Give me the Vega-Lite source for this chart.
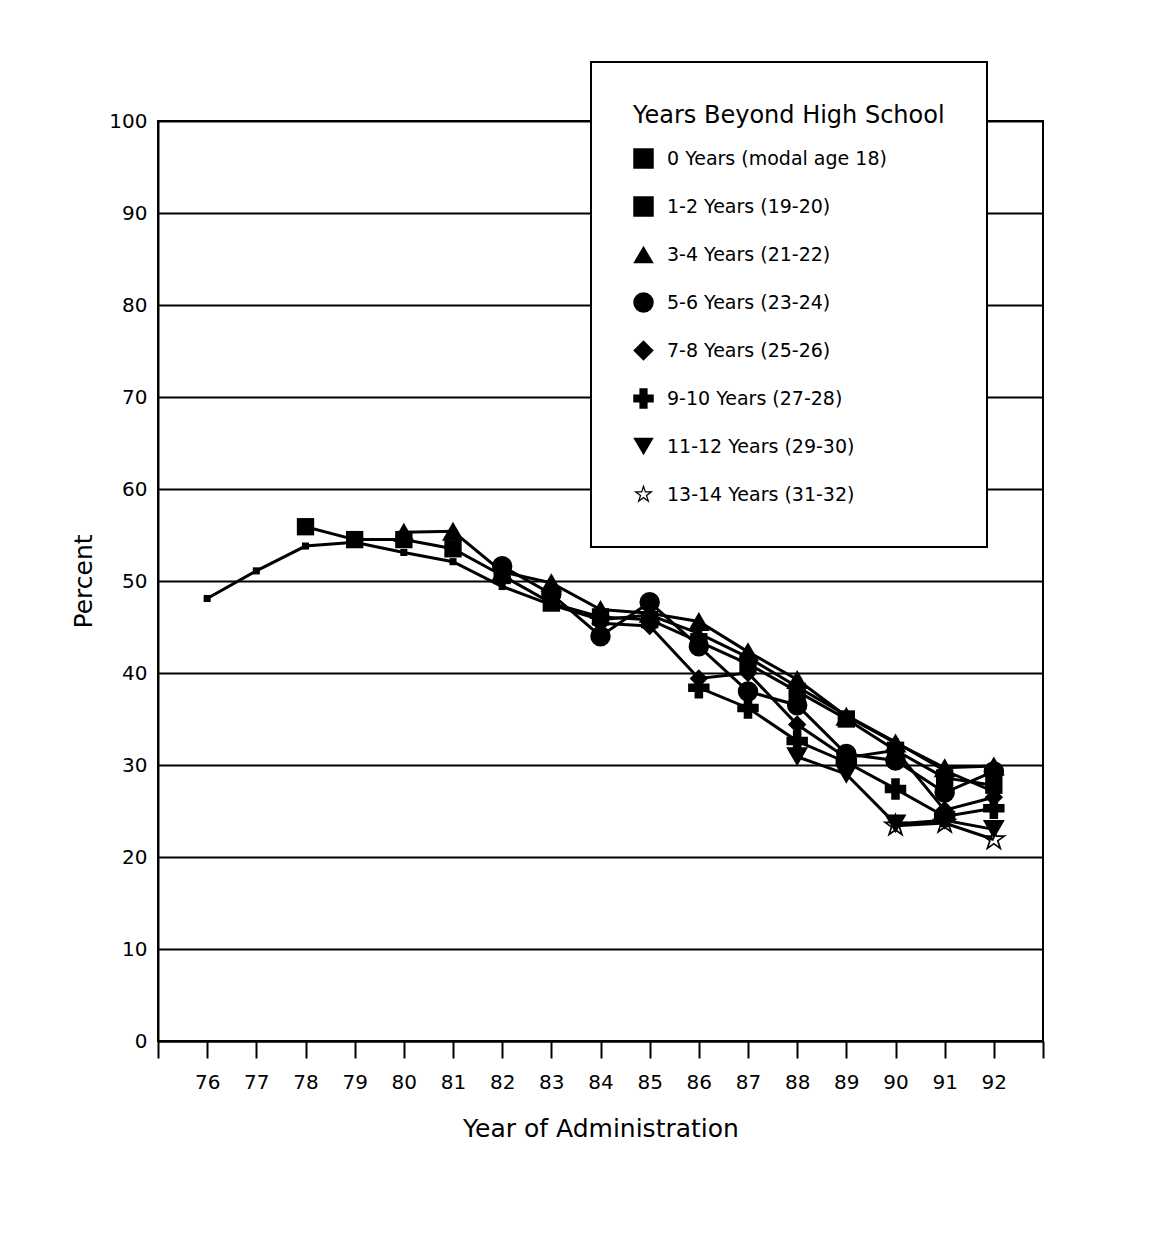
{
  "$schema": "https://vega.github.io/schema/vega-lite/v6.json",
  "autosize": {"type": "none"},
  "padding": {"left": 158, "top": 121, "right": 121, "bottom": 202},
  "width": 885,
  "height": 920,
  "background": "white",
  "config": {
    "font": "DejaVu Sans",
    "view": {"stroke": "black", "strokeWidth": 2},
    "axis": {"domainColor": "black", "domainWidth": 2, "labelColor": "black", "titleColor": "black", "labelFont": "DejaVu Sans", "titleFont": "DejaVu Sans", "titleFontWeight": "normal"},
    "legend": {
      "orient": "none", "legendX": 433, "legendY": -59,
      "padding": 42,
      "strokeColor": "black", "strokeWidth": 2, "fillColor": "white",
      "titleFont": "DejaVu Sans", "titleFontSize": 24, "titleFontWeight": "normal", "titleColor": "black", "titlePadding": 20, "titleLimit": 600,
      "labelFont": "DejaVu Sans", "labelFontSize": 19, "labelColor": "black", "labelOffset": 13, "labelLimit": 400,
      "symbolSize": 420, "symbolFillColor": "black", "symbolStrokeColor": "black", "symbolStrokeWidth": 0, "symbolOpacity": 1,
      "rowPadding": 27
    }
  },
  "data": {
    "values": [
      {"series": "0 Years (modal age 18)", "year": 76, "pct": 48.1},
      {"series": "0 Years (modal age 18)", "year": 77, "pct": 51.1},
      {"series": "0 Years (modal age 18)", "year": 78, "pct": 53.8},
      {"series": "0 Years (modal age 18)", "year": 79, "pct": 54.2},
      {"series": "0 Years (modal age 18)", "year": 80, "pct": 53.1},
      {"series": "0 Years (modal age 18)", "year": 81, "pct": 52.1},
      {"series": "0 Years (modal age 18)", "year": 82, "pct": 49.4},
      {"series": "0 Years (modal age 18)", "year": 83, "pct": 47.4},
      {"series": "0 Years (modal age 18)", "year": 84, "pct": 45.8},
      {"series": "0 Years (modal age 18)", "year": 85, "pct": 46.3},
      {"series": "0 Years (modal age 18)", "year": 86, "pct": 44.3},
      {"series": "0 Years (modal age 18)", "year": 87, "pct": 41.7},
      {"series": "0 Years (modal age 18)", "year": 88, "pct": 38.5},
      {"series": "0 Years (modal age 18)", "year": 89, "pct": 35.4},
      {"series": "0 Years (modal age 18)", "year": 90, "pct": 32.5},
      {"series": "0 Years (modal age 18)", "year": 91, "pct": 29.4},
      {"series": "0 Years (modal age 18)", "year": 92, "pct": 27.1},
      {"series": "1-2 Years (19-20)", "year": 78, "pct": 55.9},
      {"series": "1-2 Years (19-20)", "year": 79, "pct": 54.5},
      {"series": "1-2 Years (19-20)", "year": 80, "pct": 54.5},
      {"series": "1-2 Years (19-20)", "year": 81, "pct": 53.5},
      {"series": "1-2 Years (19-20)", "year": 82, "pct": 50.6},
      {"series": "1-2 Years (19-20)", "year": 83, "pct": 47.6},
      {"series": "1-2 Years (19-20)", "year": 84, "pct": 46.1},
      {"series": "1-2 Years (19-20)", "year": 85, "pct": 45.8},
      {"series": "1-2 Years (19-20)", "year": 86, "pct": 43.4},
      {"series": "1-2 Years (19-20)", "year": 87, "pct": 41.0},
      {"series": "1-2 Years (19-20)", "year": 88, "pct": 38.0},
      {"series": "1-2 Years (19-20)", "year": 89, "pct": 35.0},
      {"series": "1-2 Years (19-20)", "year": 90, "pct": 31.6},
      {"series": "1-2 Years (19-20)", "year": 91, "pct": 28.6},
      {"series": "1-2 Years (19-20)", "year": 92, "pct": 27.8},
      {"series": "3-4 Years (21-22)", "year": 80, "pct": 55.3},
      {"series": "3-4 Years (21-22)", "year": 81, "pct": 55.4},
      {"series": "3-4 Years (21-22)", "year": 82, "pct": 51.0},
      {"series": "3-4 Years (21-22)", "year": 83, "pct": 49.8},
      {"series": "3-4 Years (21-22)", "year": 84, "pct": 46.9},
      {"series": "3-4 Years (21-22)", "year": 85, "pct": 46.5},
      {"series": "3-4 Years (21-22)", "year": 86, "pct": 45.6},
      {"series": "3-4 Years (21-22)", "year": 87, "pct": 42.3},
      {"series": "3-4 Years (21-22)", "year": 88, "pct": 39.3},
      {"series": "3-4 Years (21-22)", "year": 89, "pct": 35.3},
      {"series": "3-4 Years (21-22)", "year": 90, "pct": 32.4},
      {"series": "3-4 Years (21-22)", "year": 91, "pct": 29.7},
      {"series": "3-4 Years (21-22)", "year": 92, "pct": 29.9},
      {"series": "5-6 Years (23-24)", "year": 82, "pct": 51.6},
      {"series": "5-6 Years (23-24)", "year": 83, "pct": 48.6},
      {"series": "5-6 Years (23-24)", "year": 84, "pct": 44.0},
      {"series": "5-6 Years (23-24)", "year": 85, "pct": 47.7},
      {"series": "5-6 Years (23-24)", "year": 86, "pct": 42.9},
      {"series": "5-6 Years (23-24)", "year": 87, "pct": 38.0},
      {"series": "5-6 Years (23-24)", "year": 88, "pct": 36.5},
      {"series": "5-6 Years (23-24)", "year": 89, "pct": 31.2},
      {"series": "5-6 Years (23-24)", "year": 90, "pct": 30.5},
      {"series": "5-6 Years (23-24)", "year": 91, "pct": 27.0},
      {"series": "5-6 Years (23-24)", "year": 92, "pct": 29.3},
      {"series": "7-8 Years (25-26)", "year": 84, "pct": 45.4},
      {"series": "7-8 Years (25-26)", "year": 85, "pct": 45.1},
      {"series": "7-8 Years (25-26)", "year": 86, "pct": 39.4},
      {"series": "7-8 Years (25-26)", "year": 87, "pct": 40.0},
      {"series": "7-8 Years (25-26)", "year": 88, "pct": 34.4},
      {"series": "7-8 Years (25-26)", "year": 89, "pct": 30.8},
      {"series": "7-8 Years (25-26)", "year": 90, "pct": 31.6},
      {"series": "7-8 Years (25-26)", "year": 91, "pct": 25.1},
      {"series": "7-8 Years (25-26)", "year": 92, "pct": 26.5},
      {"series": "9-10 Years (27-28)", "year": 86, "pct": 38.4},
      {"series": "9-10 Years (27-28)", "year": 87, "pct": 36.2},
      {"series": "9-10 Years (27-28)", "year": 88, "pct": 32.6},
      {"series": "9-10 Years (27-28)", "year": 89, "pct": 30.3},
      {"series": "9-10 Years (27-28)", "year": 90, "pct": 27.4},
      {"series": "9-10 Years (27-28)", "year": 91, "pct": 24.4},
      {"series": "9-10 Years (27-28)", "year": 92, "pct": 25.3},
      {"series": "11-12 Years (29-30)", "year": 88, "pct": 30.9},
      {"series": "11-12 Years (29-30)", "year": 89, "pct": 29.0},
      {"series": "11-12 Years (29-30)", "year": 90, "pct": 23.6},
      {"series": "11-12 Years (29-30)", "year": 91, "pct": 24.0},
      {"series": "11-12 Years (29-30)", "year": 92, "pct": 23.0},
      {"series": "13-14 Years (31-32)", "year": 90, "pct": 23.4},
      {"series": "13-14 Years (31-32)", "year": 91, "pct": 23.7},
      {"series": "13-14 Years (31-32)", "year": 92, "pct": 21.9}
    ]
  },
  "encoding": {
    "x": {
      "field": "year", "type": "quantitative",
      "scale": {"domain": [75, 93], "nice": false, "zero": false},
      "axis": {
        "title": "Year of Administration",
        "values": [75, 76, 77, 78, 79, 80, 81, 82, 83, 84, 85, 86, 87, 88, 89, 90, 91, 92, 93],
        "labelExpr": "datum.value == 75 || datum.value == 93 ? '' : datum.value",
        "grid": false,
        "tickColor": "black", "tickWidth": 2, "tickSize": 17,
        "labelFontSize": 20, "labelPadding": 14,
        "titleFontSize": 25, "titlePadding": 24
      }
    },
    "y": {
      "field": "pct", "type": "quantitative",
      "scale": {"domain": [0, 100], "nice": false},
      "axis": {
        "title": "Percent",
        "values": [0, 10, 20, 30, 40, 50, 60, 70, 80, 90, 100],
        "ticks": false,
        "grid": true, "gridColor": "black", "gridWidth": 2, "gridOpacity": 1,
        "labelFontSize": 20, "labelPadding": 11,
        "titleFontSize": 25, "titlePadding": 12
      }
    },
    "shape": {
      "field": "series", "type": "nominal",
      "scale": {
        "domain": ["0 Years (modal age 18)", "1-2 Years (19-20)", "3-4 Years (21-22)", "5-6 Years (23-24)", "7-8 Years (25-26)", "9-10 Years (27-28)", "11-12 Years (29-30)", "13-14 Years (31-32)"],
        "range": ["square", "square", "triangle-up", "circle", "diamond", "cross", "triangle-down", "M0,-1L0.223,-0.307L0.951,-0.309L0.361,0.117L0.588,0.809L0,0.38L-0.588,0.809L-0.361,0.117L-0.951,-0.309L-0.223,-0.307ZM0,-0.6L-0.134,-0.184L-0.571,-0.185L-0.217,0.07L-0.353,0.485L0,0.228L0.353,0.485L0.217,0.07L0.571,-0.185L0.134,-0.184Z"]
      },
      "legend": {"title": "Years Beyond High School"}
    }
  },
  "layer": [
    {
      "mark": {"type": "line", "color": "black", "strokeWidth": 3},
      "encoding": {"detail": {"field": "series", "type": "nominal"}, "shape": null}
    },
    {
      "transform": [{"filter": {"field": "series", "oneOf": ["0 Years (modal age 18)"]}}],
      "mark": {"type": "point", "filled": true, "color": "black", "opacity": 1, "size": 50}
    },
    {
      "transform": [{"filter": {"field": "series", "oneOf": ["1-2 Years (19-20)"]}}],
      "mark": {"type": "point", "filled": true, "color": "black", "opacity": 1, "size": 300}
    },
    {
      "transform": [{"filter": {"field": "series", "oneOf": ["3-4 Years (21-22)", "11-12 Years (29-30)"]}}],
      "mark": {"type": "point", "filled": true, "color": "black", "opacity": 1, "size": 480}
    },
    {
      "transform": [{"filter": {"field": "series", "oneOf": ["5-6 Years (23-24)"]}}],
      "mark": {"type": "point", "filled": true, "color": "black", "opacity": 1, "size": 420}
    },
    {
      "transform": [{"filter": {"field": "series", "oneOf": ["7-8 Years (25-26)"]}}],
      "mark": {"type": "point", "filled": true, "color": "black", "opacity": 1, "size": 340}
    },
    {
      "transform": [{"filter": {"field": "series", "oneOf": ["9-10 Years (27-28)"]}}],
      "mark": {"type": "point", "filled": true, "color": "black", "opacity": 1, "size": 460}
    },
    {
      "transform": [{"filter": {"field": "series", "oneOf": ["13-14 Years (31-32)"]}}],
      "mark": {"type": "point", "filled": true, "color": "black", "opacity": 1, "size": 750}
    }
  ]
}
